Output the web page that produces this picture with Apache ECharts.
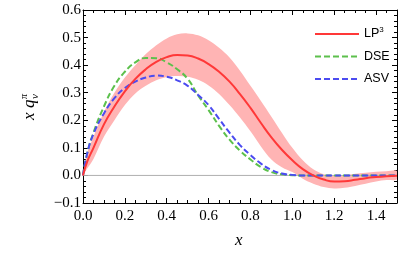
<!DOCTYPE html>
<html>
<head>
<meta charset="utf-8">
<script src="https://cdn.jsdelivr.net/npm/echarts@6/dist/echarts.min.js"></script>
<style>
html,body{margin:0;padding:0;background:#fff;}
#c{width:415px;height:257px;}
</style>
</head>
<body>
<div id="c"></div>
<script>
var xs    = [0, 0.02, 0.05, 0.1, 0.15, 0.2, 0.25, 0.3, 0.35, 0.4, 0.45, 0.5, 0.55, 0.6, 0.65, 0.7, 0.75, 0.8, 0.85, 0.9, 0.95, 1.0, 1.05, 1.1, 1.15, 1.2, 1.25, 1.3, 1.35, 1.4, 1.45, 1.5];
var lp3   = [0, 0.05, 0.10, 0.185, 0.25, 0.305, 0.35, 0.385, 0.412, 0.429, 0.437, 0.435, 0.424, 0.404, 0.376, 0.34, 0.295, 0.245, 0.19, 0.138, 0.093, 0.055, 0.023, 0.0, -0.015, -0.022, -0.021, -0.016, -0.01, -0.006, -0.003, -0.001];
var lp3Hi = [0, 0.08, 0.14, 0.23, 0.30, 0.355, 0.40, 0.44, 0.472, 0.497, 0.512, 0.515, 0.508, 0.49, 0.463, 0.428, 0.38, 0.325, 0.27, 0.213, 0.155, 0.10, 0.055, 0.022, 0.004, -0.002, 0.0, 0.006, 0.01, 0.013, 0.015, 0.016];
var lp3Lo = [0, 0.025, 0.06, 0.14, 0.2, 0.255, 0.297, 0.325, 0.345, 0.357, 0.361, 0.358, 0.347, 0.326, 0.295, 0.255, 0.21, 0.16, 0.105, 0.058, 0.03, 0.012, -0.012, -0.03, -0.042, -0.047, -0.045, -0.038, -0.03, -0.022, -0.017, -0.014];
var dse   = [0, 0.08, 0.155, 0.25, 0.325, 0.376, 0.41, 0.426, 0.425, 0.41, 0.385, 0.35, 0.29, 0.237, 0.18, 0.13, 0.09, 0.058, 0.03, 0.012, 0.004, 0.001, 0, 0, 0, 0, 0, 0, 0, 0, 0, 0];
var asv   = [0, 0.08, 0.15, 0.225, 0.28, 0.317, 0.34, 0.355, 0.362, 0.358, 0.345, 0.325, 0.292, 0.255, 0.205, 0.155, 0.11, 0.074, 0.043, 0.02, 0.007, 0.002, 0, 0, 0, 0, 0, 0, 0, 0, 0, 0];
var xTicks = [0, 0.2, 0.4, 0.6, 0.8, 1.0, 1.2, 1.4];
var yTicks = [-0.1, 0, 0.1, 0.2, 0.3, 0.4, 0.5, 0.6];
var names = ['LP3', 'DSE', 'ASV'];

function pairs(ys){ return xs.map(function(x,i){ return [x, ys[i]]; }); }

var serif = 'Liberation Serif';
function fmt(v){ return v.toFixed(1).replace('-', '\u2212'); }

var chart = echarts.init(document.getElementById('c'), null, {renderer:'canvas'});
var axisLineStyle = {color:'#000', width:1};
var tickStyle = {color:'#000', width:1};
var xBase = {
  type:'value', min:0, max:1.5, interval:0.2,
  splitLine:{show:false},
  axisLine:{show:true, onZero:false, lineStyle:axisLineStyle},
  axisTick:{show:true, inside:true, length:5, lineStyle:tickStyle},
  minorTick:{show:true, splitNumber:4, length:3, lineStyle:tickStyle}
};
var yBase = {
  type:'value', min:-0.1, max:0.6, interval:0.1,
  splitLine:{show:false},
  axisLine:{show:true, onZero:false, lineStyle:axisLineStyle},
  axisTick:{show:true, inside:true, length:5, lineStyle:tickStyle},
  minorTick:{show:true, splitNumber:5, length:3, lineStyle:tickStyle}
};
function renderBand(params, api){
  if (params.dataIndex !== 0) return null;
  var pts = [];
  for (var i = 0; i < xs.length; i++) pts.push(api.coord([xs[i], lp3Hi[i]]));
  for (var j = xs.length - 1; j >= 0; j--) pts.push(api.coord([xs[j], lp3Lo[j]]));
  return {type:'polygon', shape:{points:pts, smooth:0.35}, style:{fill:'#ffb4b4'}, silent:true};
}
var option = {
  animation:false,
  backgroundColor:'#fff',
  grid:{left:83, right:18, top:10, bottom:54, containLabel:false},
  xAxis:[
    Object.assign({}, xBase, {position:'bottom',
      axisLabel:{show:true, margin:6, color:'#000', fontFamily:serif, fontSize:15, showMaxLabel:false,
        formatter:function(v){ return xTicks.indexOf(Math.round(v*10)/10) >= 0 ? fmt(v) : ''; }}}),
    Object.assign({}, xBase, {position:'top', axisLabel:{show:false}})
  ],
  yAxis:[
    Object.assign({}, yBase, {position:'left',
      axisLabel:{show:true, margin:2, color:'#000', fontFamily:serif, fontSize:15,
        formatter:function(v){ return yTicks.indexOf(Math.round(v*10)/10) >= 0 ? fmt(v) : ''; }}}),
    Object.assign({}, yBase, {position:'right', axisLabel:{show:false}})
  ],
  legend:{
    orient:'vertical', left:309, top:21, itemWidth:44, itemHeight:14, itemGap:9.5,
    data:names,
    itemStyle:{opacity:0},
    textStyle:{fontFamily:'Liberation Sans', fontSize:12.5, color:'#000',
      rich:{sup:{fontFamily:'Liberation Sans', fontSize:8, verticalAlign:'top', padding:[0,0,8,0]}}},
    formatter:function(n){ return n === 'LP3' ? 'LP{sup|3}' : n; }
  },
  series:[
    {name:'band', type:'custom', data:[[0]], renderItem:renderBand, clip:true, silent:true, z:1},
    {name:'zero', type:'line', data:[[0,0],[1.5,0]], symbol:'none', lineStyle:{color:'#b0b0b0', width:1}, silent:true, z:2},
    {name:'DSE', type:'line', data:pairs(dse), smooth:true, symbol:'none',
      lineStyle:{color:'#5cc04c', width:2, type:[6,3]}, itemStyle:{color:'#5cc04c'}, z:3},
    {name:'ASV', type:'line', data:pairs(asv), smooth:true, symbol:'none',
      lineStyle:{color:'#4b4bf0', width:2, type:[6,3]}, itemStyle:{color:'#4b4bf0'}, z:4},
    {name:'LP3', type:'line', data:pairs(lp3), smooth:true, symbol:'none',
      lineStyle:{color:'#ff3838', width:2}, itemStyle:{color:'#ff3838'}, z:5}
  ],
  graphic:[
    {type:'text', left:235, top:232, style:{text:'x', font:'italic 17px "Liberation Serif"', fill:'#000'}},
    {type:'group', x:30, y:104, rotation:Math.PI/2, children:[
      {type:'text', x:-16, y:0, style:{text:'x', font:'italic 17px "Liberation Serif"', fill:'#000', align:'left', verticalAlign:'middle'}},
      {type:'text', x:-4, y:0, style:{text:'q', font:'italic 17px "Liberation Serif"', fill:'#000', align:'left', verticalAlign:'middle'}},
      {type:'text', x:5, y:-6, style:{text:'\u03c0', font:'italic 10px "Liberation Serif"', fill:'#000', align:'left', verticalAlign:'middle'}},
      {type:'text', x:5, y:5, style:{text:'v', font:'italic 11px "Liberation Serif"', fill:'#000', align:'left', verticalAlign:'middle'}}
    ]}
  ]
};
chart.setOption(option);
</script>
</body>
</html>
